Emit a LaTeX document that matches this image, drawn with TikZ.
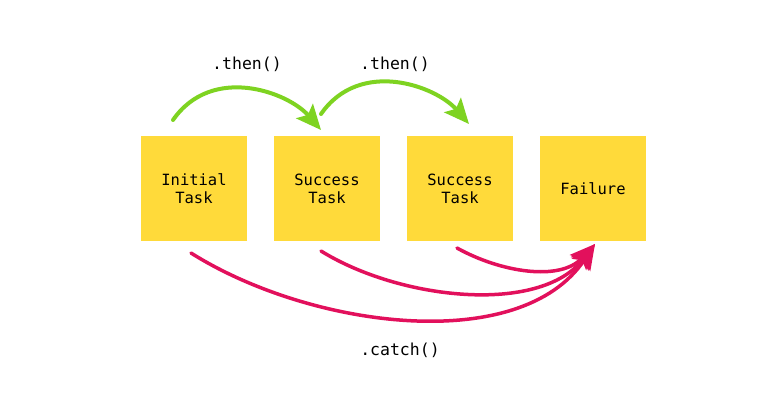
\documentclass[tikz,border=0pt]{standalone}
\usepackage{fontspec}
\setmonofont{DejaVu Sans Mono}
\usetikzlibrary{arrows.meta}
\definecolor{boxyellow}{HTML}{FFDA3A}
\definecolor{thengreen}{HTML}{7ED321}
\definecolor{catchred}{HTML}{E2105C}
\tikzset{
  task/.style={fill=boxyellow, minimum width=106pt, minimum height=105pt, inner sep=0pt,
    align=center, font=\ttfamily\fontsize{15.5}{18}\selectfont},
  lbl/.style={font=\ttfamily\fontsize{16.5}{19}\selectfont, inner sep=0pt},
  thenarrow/.style={draw=thengreen, line width=4pt, line cap=round,
    -{Stealth[length=25pt,width=22pt,inset=5pt,fill=thengreen]}},
  catcharrow/.style={draw=catchred, line width=3.5pt, line cap=round,
    -{Stealth[length=25pt,width=22pt,inset=5pt,fill=catchred]}},
}
\begin{document}
\begin{tikzpicture}[x=1pt,y=-1pt]
\path[use as bounding box, fill=white] (0,0) rectangle (780,400);
\node[task] (t1) at (194,188.5) {Initial\\Task};
\node[task] (t2) at (327,188.5) {Success\\Task};
\node[task] (t3) at (460,188.5) {Success\\Task};
\node[task] (t4) at (593,188.5) {Failure};
\node[lbl] (then1) at (247,64) {.then()};
\node[lbl] (then2) at (395,64) {.then()};
\node[lbl] (catch) at (400,350) {.catch()};
% free ends
\coordinate (g1s) at (173,120);
\coordinate (g1e) at (321,130);
\coordinate (g2s) at (321,114);
\coordinate (g2e) at (469,124);
\coordinate (r1s) at (191,253);
\coordinate (r2s) at (321,251);
\coordinate (r3s) at (457,248);
\coordinate (re) at (595,244);
\draw[thenarrow] (g1s) .. controls (212,64) and (288,92) .. (g1e);
\draw[thenarrow] (g2s) .. controls (360,58) and (436,86) .. (g2e);
\draw[catcharrow] (r1s) .. controls (310,328) and (520,356) .. (re);
\draw[catcharrow] (r2s) .. controls (400,300) and (540,315) .. (re);
\draw[catcharrow] (r3s) .. controls (500,272) and (560,282) .. (re);
\end{tikzpicture}
\end{document}
